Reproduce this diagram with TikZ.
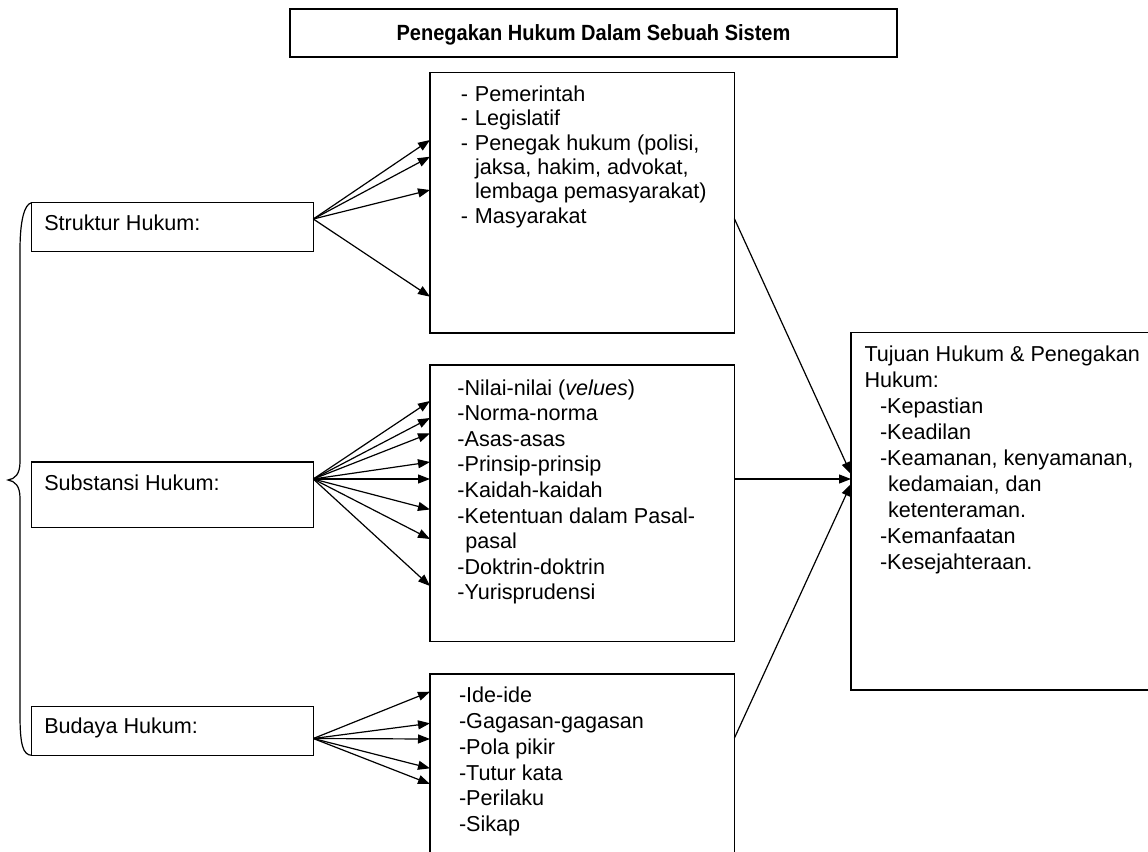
\documentclass[tikz,border=0pt]{standalone}
\usepackage{fontspec}
\setmainfont{Liberation Sans}
\usetikzlibrary{arrows.meta,calc}
\begin{document}
\begin{tikzpicture}[x=1pt,y=-1pt,
  box/.style={draw, line width=1.5pt, inner sep=0pt, outer sep=0pt, anchor=north west},
  txt/.style={anchor=north west, inner sep=0pt, outer sep=0pt, align=left, font=\fontsize{21.6}{#1}\selectfont},
  txt/.default=25.6,
  lbl/.style={anchor=base west, inner sep=0pt, outer sep=0pt, font=\fontsize{21.6}{25}\selectfont},
  arr/.style={line width=1.2pt, -{Triangle[length=12pt,width=9pt]}},
  brace/.style={line width=1.2pt}
]
\useasboundingbox (0,0) rectangle (1148,851);

% boxes
\node[box, minimum width=607pt, minimum height=48pt] (title) at (290,9) {};
\node[box, minimum width=281.6pt, minimum height=49pt] (b1) at (31.7,202.7) {};
\node[box, minimum width=281.6pt, minimum height=65.7pt] (b2) at (31.7,462) {};
\node[box, minimum width=281.6pt, minimum height=48.6pt] (b3) at (31.7,706.7) {};
\node[box, minimum width=304.3pt, minimum height=260.3pt] (l1) at (430,72.7) {};
\node[box, minimum width=304.3pt, minimum height=276.7pt] (l2) at (430,365) {};
\node[box, minimum width=304.3pt, minimum height=190pt] (l3) at (430,674) {};
\node[box, minimum width=303pt, minimum height=357.7pt] (goal) at (851,332.3) {};

% title
\node[anchor=base, inner sep=0pt, font=\fontsize{22}{26}\selectfont\bfseries] (ttext) at (593.5,41) {\scalebox{0.91}[1]{Penegakan Hukum Dalam Sebuah Sistem}};

% left labels
\node[lbl] (t1) at (44.3,230.7) {Struktur Hukum:};
\node[lbl] (t2) at (44.3,490) {Substansi Hukum:};
\node[lbl] (t3) at (44.3,733.3) {Budaya Hukum:};

% list texts
\node[txt=24.3] (x1) at (460.8,84.5) {\strut\makebox[14.2pt][l]{-}Pemerintah\\
\makebox[14.2pt][l]{-}Legislatif\\
\makebox[14.2pt][l]{-}Penegak hukum (polisi,\\
\hspace*{14.2pt}jaksa, hakim, advokat,\\
\hspace*{14.2pt}lembaga pemasyarakat)\\
\makebox[14.2pt][l]{-}Masyarakat};

\node[txt=25.6] (x2) at (457.4,377.1) {\strut -Nilai-nilai (\textit{velues})\\
-Norma-norma\\
-Asas-asas\\
-Prinsip-prinsip\\
-Kaidah-kaidah\\
-Ketentuan dalam Pasal-\\
\hspace*{8pt}pasal\\
-Doktrin-doktrin\\
-Yurisprudensi};

\node[txt=25.9] (x3) at (459,684.2) {\strut -Ide-ide\\
-Gagasan-gagasan\\
-Pola pikir\\
-Tutur kata\\
-Perilaku\\
-Sikap};

\node[txt=26] (x4) at (864.5,342.8) {\strut Tujuan Hukum \& Penegakan\\
Hukum:\\
\hspace*{15.5pt}-Kepastian\\
\hspace*{15.5pt}-Keadilan\\
\hspace*{15.5pt}-Keamanan, kenyamanan,\\
\hspace*{23.5pt}kedamaian, dan\\
\hspace*{23.5pt}ketenteraman.\\
\hspace*{15.5pt}-Kemanfaatan\\
\hspace*{15.5pt}-Kesejahteraan.};

% brace
\draw[brace] (b1.north west) .. controls (24,204) and (20,222) .. (20,250)
  -- (20,462) .. controls (20,474) and (15,479) .. (8,480)
  .. controls (15,481) and (20,486) .. (20,498)
  -- (20,715) .. controls (20,745) and (23,755) .. (b3.south west);

% arrows from Struktur
\coordinate (so) at (b1.east |- 0,219);
\foreach \yy in {140,156.7,190,296.7} \draw[arr] (so) -- (l1.west |- 0,\yy);

% arrows from Substansi
\coordinate (sso) at (b2.east |- 0,479);
\foreach \yy in {401,418,433.3,462,479,509.5,539,586} \draw[arr] (sso) -- (l2.west |- 0,\yy);

% arrows from Budaya
\coordinate (bo) at (b3.east |- 0,738.5);
\foreach \yy in {691.7,723.3,739,768.3,784} \draw[arr] (bo) -- (l3.west |- 0,\yy);

% arrows to goal
\draw[arr] (l1.east |- 0,218.5) -- (goal.west |- 0,474);
\draw[arr] (l2.east |- 0,479) -- (goal.west |- 0,479);
\draw[arr] (l3.east |- 0,738.3) -- (goal.west |- 0,484);
\end{tikzpicture}
\end{document}
